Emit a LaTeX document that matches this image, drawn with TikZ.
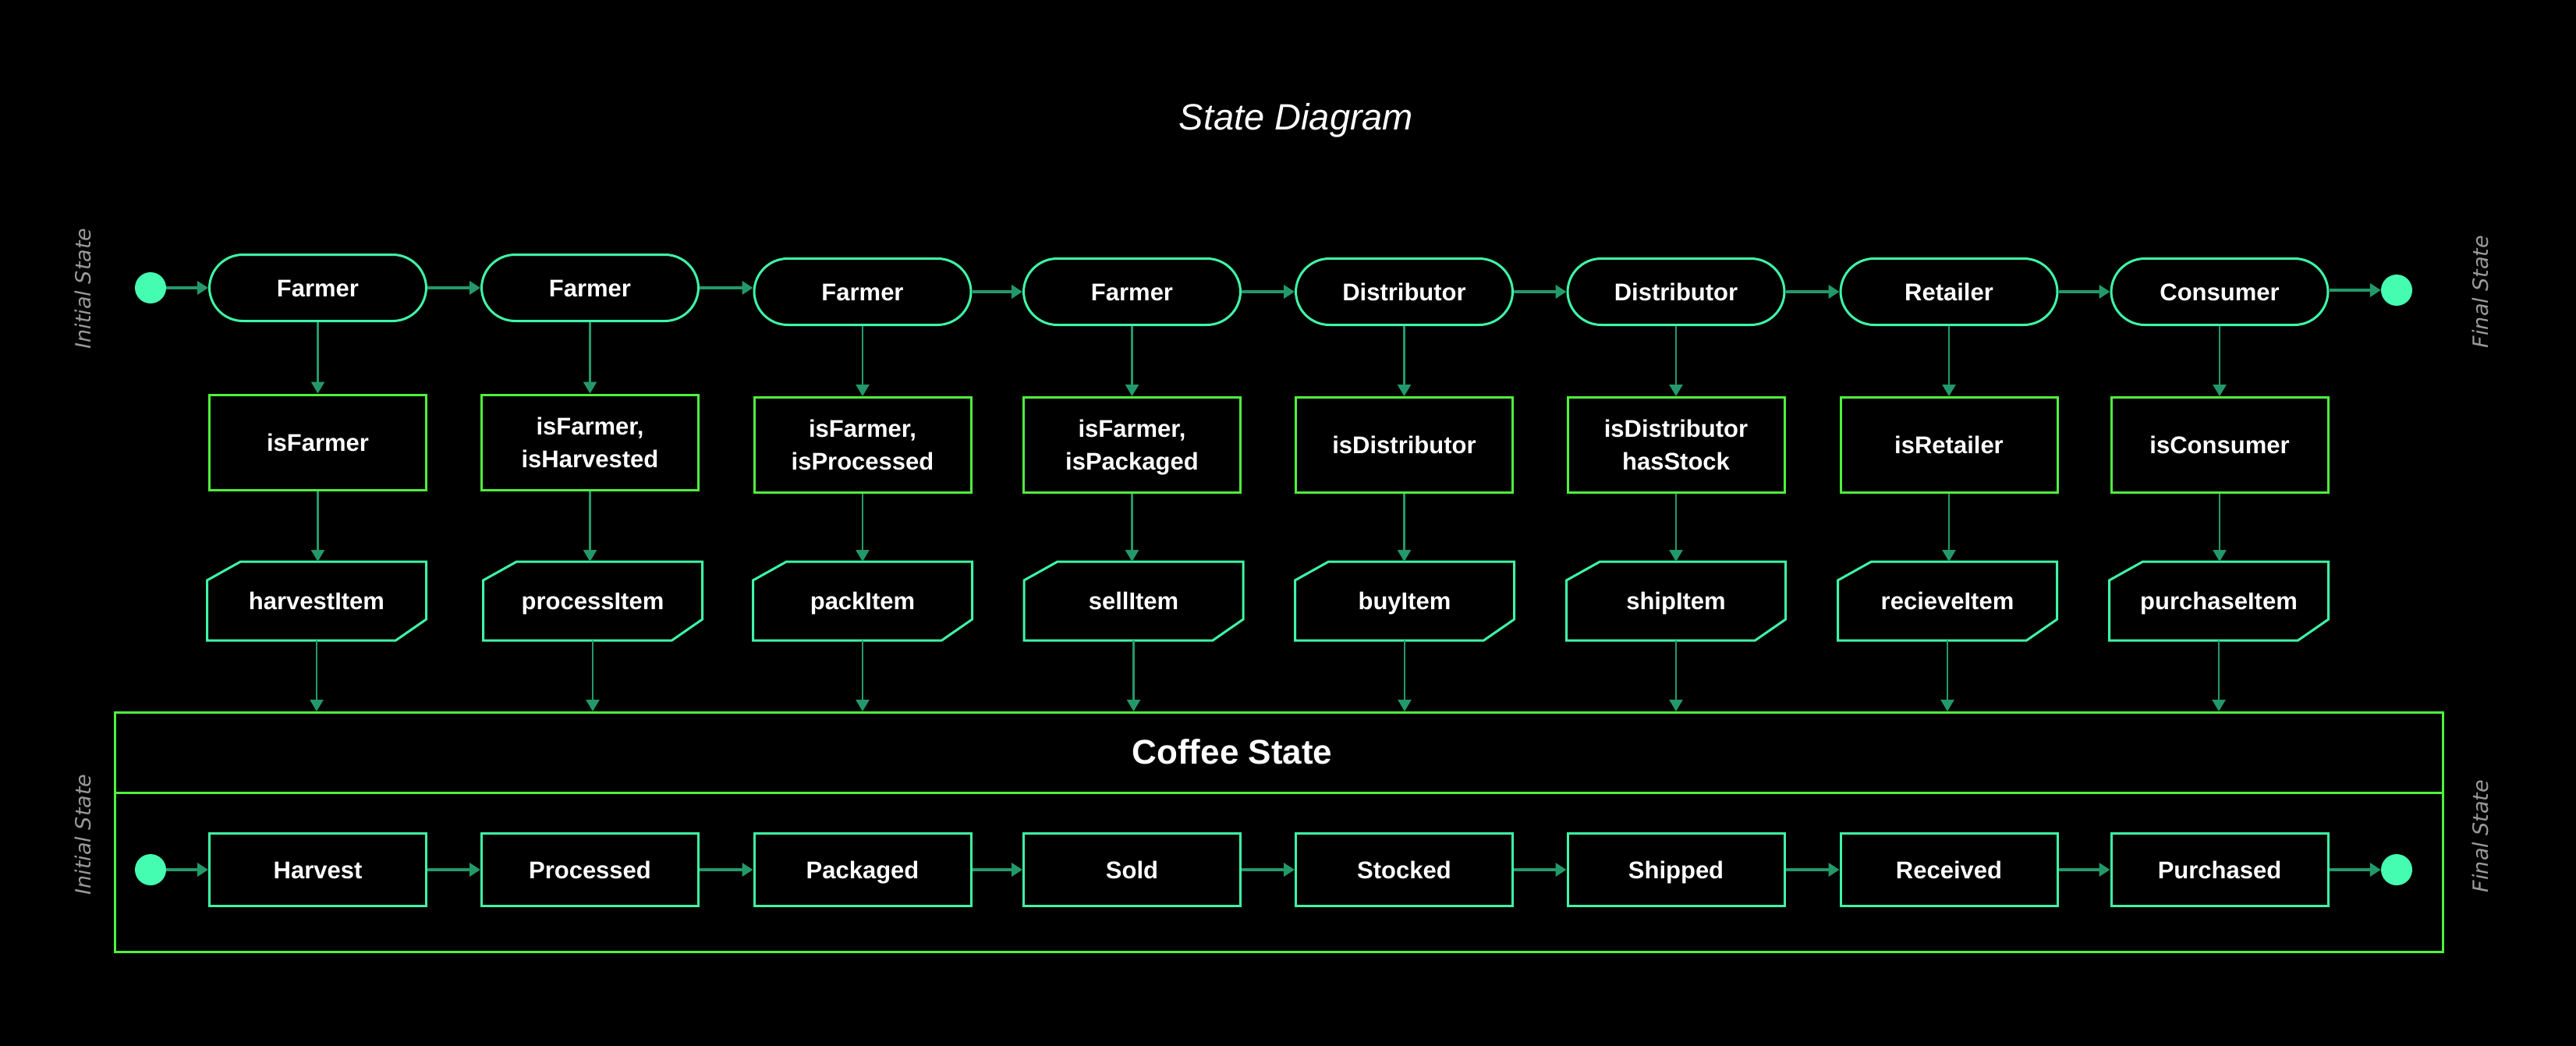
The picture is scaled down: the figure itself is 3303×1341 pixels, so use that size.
\documentclass[tikz,border=0pt]{standalone}
\usepackage{fontspec}
\setmainfont{Liberation Sans}
\newfontfamily\djv{DejaVu Sans}
\usetikzlibrary{arrows.meta}
\definecolor{aqua}{HTML}{3EF7A6}
\definecolor{lime}{HTML}{4FF23C}
\definecolor{arrg}{HTML}{23996A}
\definecolor{dotc}{HTML}{45FDB0}
\definecolor{graylab}{HTML}{9A9A9A}
\tikzset{
  lbl/.style={text=white, font=\fontsize{31}{42}\selectfont\bfseries, align=center, inner sep=0pt},
  oneline/.style={text height=22pt, text depth=0pt},
  twoline/.style={},
  pill/.style={lbl, oneline, draw=aqua, line width=3pt, rounded corners=43pt, minimum width=278pt, minimum height=85pt, fill=black},
  cond/.style={lbl, draw=lime, line width=3pt, minimum width=278pt, minimum height=122pt, fill=black},
  itembox/.style={lbl, oneline, minimum width=281pt, minimum height=101pt, outer sep=0pt},
  itemline/.style={draw=aqua, line width=3pt, line join=miter},
  statebox/.style={lbl, oneline, draw=aqua, line width=3pt, minimum width=278pt, minimum height=93pt, fill=black},
  dot/.style={circle, fill=dotc, minimum size=40pt, inner sep=0pt},
  arr/.style={draw=arrg, line width=2.5pt, -{Triangle[width=17pt,length=15pt]}},
  harr/.style={arr, line width=4pt, -{Triangle[width=17pt,length=14pt]}},
  sidelab/.style={text=graylab, font=\djv\itshape\fontsize{27}{30}\selectfont, rotate=90, inner sep=0pt}
}
\begin{document}
\begin{tikzpicture}[x=1pt,y=-1pt]
\fill[black] (0,0) rectangle (3303,1341);
\useasboundingbox (0,0) rectangle (3303,1341);

% title
\node[text=white, font=\itshape\fontsize{47}{50}\selectfont, anchor=base] (title) at (1662,166) {State Diagram};

% side labels
\node[sidelab] (il1) at (106,370) {Initial State};
\node[sidelab] (fl1) at (3180,374) {Final State};
\node[sidelab] (il2) at (106,1070) {Initial State};
\node[sidelab] (fl2) at (3180,1072) {Final State};

% top row pills
\foreach \i/\x/\y/\t in {1/407.5/369/Farmer, 2/756.5/369/Farmer, 3/1106/374/Farmer, 4/1451.5/374/Farmer,
  5/1800.5/374/Distributor, 6/2149/374/Distributor, 7/2499/374/Retailer, 8/2846/374/Consumer}
  \node[pill] (p\i) at (\x,\y) {\t};

% condition boxes
\foreach \i/\x/\y/\s/\t in {1/407.5/567/oneline/isFarmer, 2/756.5/567/twoline/{isFarmer,\\isHarvested},
  3/1106/570.5/twoline/{isFarmer,\\isProcessed}, 4/1451.5/570.5/twoline/{isFarmer,\\is\smash{Packaged}},
  5/1800.5/570.5/oneline/isDistributor, 6/2149/570.5/twoline/{isDistributor\\hasStock},
  7/2499/570.5/oneline/isRetailer, 8/2846/570.5/oneline/isConsumer}
  \node[cond, \s] (c\i) at (\x,\y) {\t};

% function items
\foreach \i/\x/\t in {1/406/harvestItem, 2/760/processItem, 3/1106/packItem, 4/1453.5/sellItem,
  5/1801/buyItem, 6/2149/shipItem, 7/2497/recieveItem, 8/2845/purchaseItem}
{
  \node[itembox] (i\i) at (\x,770.5) {\t};
  \draw[itemline] ([yshift=-24pt]i\i.north west) -- ([xshift=43pt]i\i.north west) -- (i\i.north east)
     -- ([yshift=27pt]i\i.south east) -- ([xshift=-39pt]i\i.south east) -- (i\i.south west) -- cycle;
}

% dots
\node[dot] (d0) at (193,369) {};
\node[dot] (d9) at (3073,372) {};

% top arrows
\draw[harr] (d0) -- (p1.west);
\foreach \i/\j in {1/2,2/3,3/4,4/5,5/6,6/7,7/8}
  \draw[harr] (p\i.east) -- (p\i.east -| p\j.west);
\draw[harr] (p8.east |- d9) -- (d9);

% coffee state container
\node[draw=lime, line width=3pt, minimum width=2985pt, minimum height=307pt, inner sep=0pt] (cs) at (1640,1067) {};
\coordinate (divl) at (cs.west |- 0,1016);
\coordinate (divr) at (cs.east |- 0,1016);
\draw[draw=lime, line width=3pt] (divl) -- (divr);
\node[text=white, font=\fontsize{44}{48}\selectfont\bfseries, text height=32pt, text depth=0pt, inner sep=0pt] (cst) at (1580,963) {Coffee State};

% vertical arrows
\foreach \i in {1,...,8}
{
  \draw[arr] (p\i.south) -- (p\i.south |- c\i.north);
  \draw[arr] (c\i.south) -- (c\i.south |- i\i.north);
  \draw[arr] (i\i.south) -- (i\i.south |- cs.north);
}

% bottom row
\foreach \i/\x/\t in {1/407.5/Harvest, 2/756.5/Processed, 3/1106/Packaged, 4/1451.5/Sold,
  5/1800.5/Stocked, 6/2149/Shipped, 7/2499/Received, 8/2846/Purchased}
  \node[statebox] (b\i) at (\x,1115) {\t};
\node[dot] (e0) at (193,1115) {};
\node[dot] (e9) at (3073,1115) {};
\draw[harr] (e0) -- (b1.west);
\foreach \i/\j in {1/2,2/3,3/4,4/5,5/6,6/7,7/8}
  \draw[harr] (b\i.east) -- (b\j.west);
\draw[harr] (b8.east) -- (e9);
\end{tikzpicture}
\end{document}
